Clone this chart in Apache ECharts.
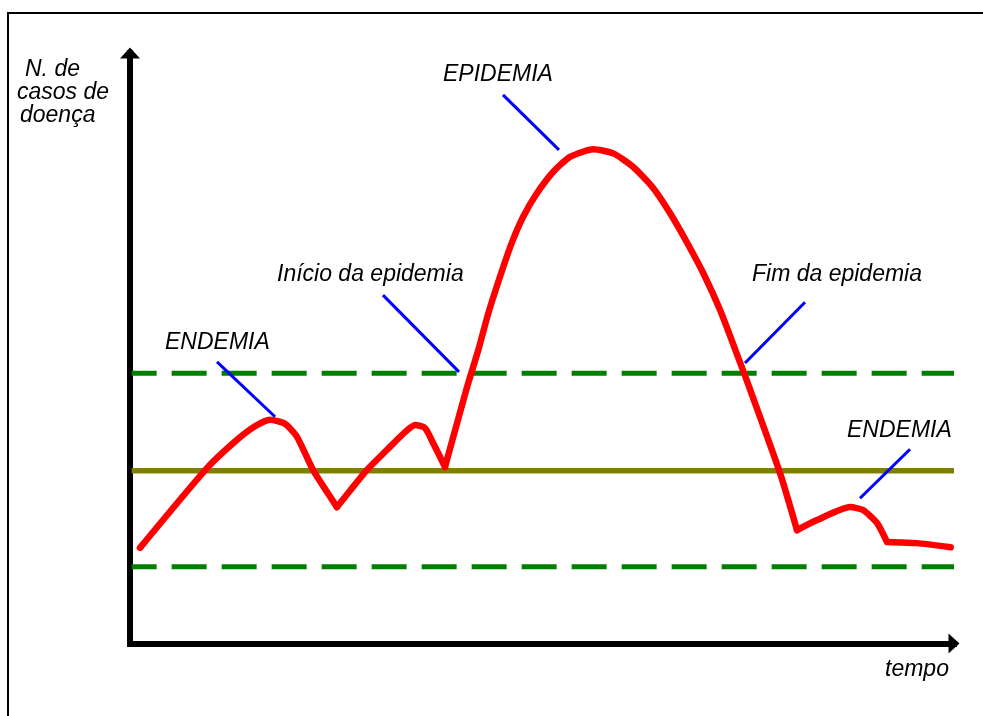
<!DOCTYPE html>
<html>
<head>
<meta charset="utf-8">
<title>Endemia / Epidemia</title>
<script src="https://cdn.jsdelivr.net/npm/echarts@6/dist/echarts.min.js"></script>
<style>
    html, body { margin: 0; padding: 0; background: #fff; }
    #chart { width: 983px; height: 716px; }
</style>
</head>
<body>
<div id="chart"></div>
<script>
// tempo (0-100) x n. de casos (0-100)
var casosTempo = [1.21, 9.34, 12.99, 15.17, 16.99, 18.81, 20.27, 22.21, 25.12, 28.76, 31.19, 33.37, 34.59, 35.80, 36.77, 38.23,
    40.86, 42.27, 43.48, 44.90, 46.32, 47.73, 49.36, 51.37, 53.40, 56.23, 58.65, 61.08, 63.51, 65.53, 67.56, 69.58, 71.60, 73.63, 74.84,
    78.88, 80.95, 83.37, 87.38, 88.96, 90.66, 91.87, 95.51, 99.6];
var casosValor = [16.2, 29.7, 34.5, 36.8, 37.9, 37.2, 35.0, 29.4, 23.1, 29.4, 32.8, 35.8, 37.0, 36.5, 34.0, 29.9,
    43.2, 49.7, 55.9, 62.1, 67.8, 72.3, 76.2, 79.9, 82.4, 83.7, 83.0, 80.7, 77.1, 72.9, 68.0, 62.7, 56.5, 49.1, 44.6,
    28.9, 19.2, 20.9, 23.1, 22.6, 20.4, 17.2, 17.0, 16.3];
// indices dos "bicos" da curva (vales e quinas)
var quebras = [0, 8, 15, 36, 41, 43];

// limites
var limiteSuperior = 45.76;
var nivelEndemico = 29.26;
var limiteInferior = 13.0;
var limiteInicio = 0.2, limiteFim = 100;

// rotulos
var rotulos = ['ENDEMIA', 'Início da epidemia', 'EPIDEMIA', 'Fim da epidemia', 'ENDEMIA'];
// linhas azuis de indicacao [x1, y1, x2, y2]
var indicadores = [
    [10.56, 47.7, 17.60, 38.4],
    [30.70, 59.0, 39.93, 46.0],
    [45.27, 92.9, 52.06, 83.6],
    [81.92, 57.8, 74.64, 47.5],
    [94.66, 32.9, 88.59, 24.6]
];
var tituloY = ['N. de', 'casos de', 'doença'];
var tituloX = 'tempo';

var chart = echarts.init(document.getElementById('chart'));

var textos = [];
var posRotulos = [[165, 343], [277, 275], [443, 75], [752, 275], [847, 431]];
var posTituloY = [[25, 70], [17, 93], [20, 116]];
var pushTexto = function (txt, p) {
    textos.push({
        type: 'text',
        x: p[0], y: p[1], z: 100, silent: true,
        style: {
            text: txt,
            fontFamily: 'Liberation Sans',
            fontStyle: 'italic',
            fontSize: 23,
            fill: '#000',
            verticalAlign: 'middle',
            align: 'left'
        }
    });
};
rotulos.forEach(function (t, i) { pushTexto(t, posRotulos[i]); });
tituloY.forEach(function (t, i) { pushTexto(t, posTituloY[i]); });
pushTexto(tituloX, [885, 670]);

// moldura
textos.push({
    type: 'rect', silent: true, z: 0,
    shape: { x: 8, y: 13, width: 1100, height: 900 },
    style: { fill: 'none', stroke: '#000', lineWidth: 2 }
});

var horizontal = function (v) { return [[limiteInicio, v], [limiteFim, v]]; };

var series = [
    {
        type: 'line', data: horizontal(nivelEndemico), showSymbol: false, silent: true, z: 2,
        lineStyle: { color: '#808000', width: 5.5 }
    },
    {
        type: 'line', data: horizontal(limiteSuperior), showSymbol: false, silent: true, z: 2,
        lineStyle: { color: '#008000', width: 5, type: [35, 15], dashOffset: 10 }
    },
    {
        type: 'line', data: horizontal(limiteInferior), showSymbol: false, silent: true, z: 2,
        lineStyle: { color: '#008000', width: 5, type: [35, 15], dashOffset: 10 }
    }
];
// curva vermelha: um trecho suavizado entre cada bico
for (var k = 0; k < quebras.length - 1; k++) {
    var trecho = [];
    for (var i = quebras[k]; i <= quebras[k + 1]; i++) {
        trecho.push([casosTempo[i], casosValor[i]]);
    }
    series.push({
        type: 'line', showSymbol: false, silent: true, z: 3, smooth: 0.2,
        data: trecho,
        lineStyle: { color: '#ff0000', width: 6.5, cap: 'round', join: 'round' }
    });
}
indicadores.forEach(function (s) {
    series.push({
        type: 'line', showSymbol: false, silent: true, z: 4,
        data: [[s[0], s[1]], [s[2], s[3]]],
        lineStyle: { color: '#0000ff', width: 3 }
    });
});

var eixo = {
    type: 'value', min: 0, max: 100,
    splitLine: { show: false },
    axisTick: { show: false },
    axisLabel: { show: false },
    axisLine: {
        show: true,
        symbol: ['none', 'triangle'],
        symbolSize: [20, 11],
        lineStyle: { color: '#000', width: 6, cap: 'square' }
    }
};

var option = {
    animation: false,
    backgroundColor: '#fff',
    grid: { left: 130, right: 29, top: 53, bottom: 72.5, containLabel: false },
    xAxis: eixo,
    yAxis: echarts.util.clone(eixo),
    series: series,
    graphic: textos
};
chart.setOption(option);
</script>
</body>
</html>
